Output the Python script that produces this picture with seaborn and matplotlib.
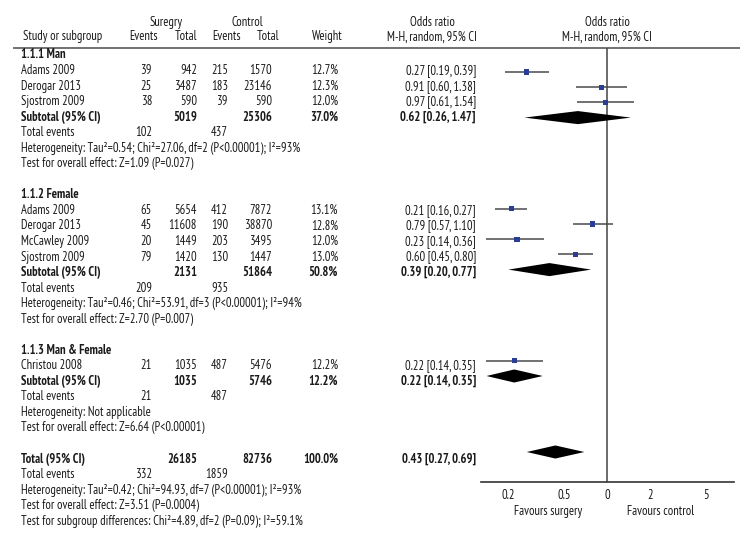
import matplotlib
matplotlib.use("Agg")
import matplotlib.pyplot as plt
import seaborn as sns
import pandas as pd
from matplotlib import font_manager

# ---- data ----
groups = ["1.1.1 Man", "1.1.2 Female", "1.1.3 Man & Female"]
study_group = [0, 0, 0, 1, 1, 1, 1, 2]
study_names = ["Adams 2009", "Derogar 2013", "Sjostrom 2009",
               "Adams 2009", "Derogar 2013", "McCawley 2009", "Sjostrom 2009",
               "Christou 2008"]
surg_events = [39, 25, 38, 65, 45, 20, 79, 21]
surg_total = [942, 3487, 590, 5654, 11608, 1449, 1420, 1035]
ctrl_events = [215, 183, 39, 412, 190, 203, 130, 487]
ctrl_total = [1570, 23146, 590, 7872, 38870, 3495, 1447, 5476]
weights = [12.7, 12.3, 12.0, 13.1, 12.8, 12.0, 13.0, 12.2]
or_est = [0.27, 0.91, 0.97, 0.21, 0.79, 0.23, 0.60, 0.22]
or_lo = [0.19, 0.60, 0.61, 0.16, 0.57, 0.14, 0.45, 0.14]
or_hi = [0.39, 1.38, 1.54, 0.27, 1.10, 0.36, 0.80, 0.35]

sub_surg_total = [5019, 2131, 1035]
sub_ctrl_total = [25306, 51864, 5746]
sub_weight = [37.0, 50.8, 12.2]
sub_surg_events = [102, 209, 21]
sub_ctrl_events = [437, 935, 487]
sub_est = [0.62, 0.39, 0.22]
sub_lo = [0.26, 0.20, 0.14]
sub_hi = [1.47, 0.77, 0.35]
sub_het = ["Heterogeneity: Tau²=0.54; Chi²=27.06, df=2 (P<0.00001); I²=93%",
           "Heterogeneity: Tau²=0.46; Chi²=53.91, df=3 (P<0.00001); I²=94%",
           "Heterogeneity: Not applicable"]
sub_test = ["Test for overall effect: Z=1.09 (P=0.027)",
            "Test for overall effect: Z=2.70 (P=0.007)",
            "Test for overall effect: Z=6.64 (P<0.00001)"]

tot_surg_total, tot_ctrl_total, tot_weight = 26185, 82736, 100.0
tot_surg_events, tot_ctrl_events = 332, 1859
tot_est, tot_lo, tot_hi = 0.43, 0.27, 0.69
tot_notes = ["Heterogeneity: Tau²=0.42; Chi²=94.93, df=7 (P<0.00001); I²=93%",
             "Test for overall effect: Z=3.51 (P=0.0004)",
             "Test for subgroup differences: Chi²=4.89, df=2 (P=0.09); I²=59.1%"]

tick_vals = [0.2, 0.5, 1, 2, 5]
tick_labels = ["0.2", "0.5", "0", "2", "5"]

# ---- style ----
sns.set_style("white")
names = {f.name for f in font_manager.fontManager.ttflist}
fam = "DejaVu Sans"
for cand in ["PT Sans Narrow", "Fira Sans Condensed", "Roboto Condensed",
             "Open Sans Condensed", "Asap Condensed", "Archivo Narrow",
             "Liberation Sans Narrow"]:
    if cand in names:
        fam = cand
        break
plt.rcParams["font.family"] = [fam, "DejaVu Sans"]
FS = 9
TXT = "#1a1a1a"

# ---- build rows ----
rows = []
study_rows = []
diamonds = []
r = 0
for g, gname in enumerate(groups):
    rows.append((r, "head", gname))
    r += 1
    for i in range(len(study_names)):
        if study_group[i] != g:
            continue
        rows.append((r, "study", i))
        study_rows.append(r)
        r += 1
    rows.append((r, "sub", g))
    diamonds.append((r, sub_est[g], sub_lo[g], sub_hi[g]))
    r += 1
    rows.append((r, "events", (sub_surg_events[g], sub_ctrl_events[g])))
    r += 1
    rows.append((r, "note", sub_het[g]))
    r += 1
    rows.append((r, "note", sub_test[g]))
    r += 2
rows.append((r, "total", None))
diamonds.append((r, tot_est, tot_lo, tot_hi))
r += 1
rows.append((r, "events", (tot_surg_events, tot_ctrl_events)))
r += 1
for n in tot_notes:
    rows.append((r, "note", n))
    r += 1

df = pd.DataFrame({"row": study_rows, "est": or_est, "lo": or_lo, "hi": or_hi})

# ---- figure ----
fig = plt.figure(figsize=(7.5, 5.44), dpi=100)
ax_t = fig.add_axes([0, 0, 1, 1])
ax_t.set_xlim(0, 750)
ax_t.set_ylim((544 - 55) / 15.54, -55 / 15.54)
ax_t.axis("off")

x_lab, x_se, x_st, x_ce, x_ct, x_w, x_or = 21, 152, 197, 228, 272, 338, 476


def put(x, y, s, ha="right", bold=False):
    ax_t.text(x, y, s, ha=ha, va="center", fontsize=FS, color=TXT,
              fontweight="bold" if bold else "normal")


def fmt_or(e, lo, hi):
    return f"{e:.2f} [{lo:.2f}, {hi:.2f}]"


# header
put(166, -2.12, "Suregry", ha="center")
put(247, -2.12, "Control", ha="center")
put(432, -2.12, "Odds ratio", ha="center")
put(607, -2.12, "Odds ratio", ha="center")
put(23, -1.16, "Study or subgroup", ha="left")
put(158, -1.16, "Events")
put(197, -1.16, "Total")
put(241, -1.16, "Events")
put(279, -1.16, "Total")
put(343, -1.16, "Weight")
put(432, -1.16, "M-H, random, 95% CI", ha="center")
put(607, -1.16, "M-H, random, 95% CI", ha="center")
ax_t.hlines(-0.45, 13, 740, color="#666666", lw=1.3)

for row, kind, c in rows:
    if kind == "head":
        put(x_lab, row, c, ha="left", bold=True)
    elif kind == "study":
        put(x_lab, row, study_names[c], ha="left")
        put(x_se, row, str(surg_events[c]))
        put(x_st, row, str(surg_total[c]))
        put(x_ce, row, str(ctrl_events[c]))
        put(x_ct, row, str(ctrl_total[c]))
        put(x_w, row, f"{weights[c]:.1f}%")
        put(x_or, row, fmt_or(or_est[c], or_lo[c], or_hi[c]))
    elif kind == "sub":
        put(x_lab, row, "Subtotal (95% CI)", ha="left", bold=True)
        put(x_st, row, str(sub_surg_total[c]), bold=True)
        put(x_ct, row, str(sub_ctrl_total[c]), bold=True)
        put(x_w, row, f"{sub_weight[c]:.1f}%", bold=True)
        put(x_or, row, fmt_or(sub_est[c], sub_lo[c], sub_hi[c]), bold=True)
    elif kind == "total":
        put(x_lab, row, "Total (95% CI)", ha="left", bold=True)
        put(x_st, row, str(tot_surg_total), bold=True)
        put(x_ct, row, str(tot_ctrl_total), bold=True)
        put(x_w, row, f"{tot_weight:.1f}%", bold=True)
        put(x_or, row, fmt_or(tot_est, tot_lo, tot_hi), bold=True)
    elif kind == "events":
        put(x_lab, row, "Total events", ha="left")
        put(x_se, row, str(c[0]))
        put(x_ce, row, str(c[1]))
    else:
        put(x_lab, row, c, ha="left")

put(548, 29.35, "Favours surgery", ha="center")
put(661, 29.35, "Favours control", ha="center")

# ---- forest panel ----
ax_f = fig.add_axes([481 / 750, 0, 253 / 750, 1])
ax_f.patch.set_visible(False)
ax_f.set_xscale("log")
ax_f.set_xlim(0.128, 7.9)
ax_f.set_ylim((544 - 56.8) / 15.2, -56.8 / 15.2)
axis_row = (482 - 56.8) / 15.2

ax_f.hlines(df["row"], df["lo"], df["hi"], color="#4a4a4a", lw=1.1, zorder=2)
sns.scatterplot(data=df, x="est", y="row", marker="s", s=14, color="#2b3d96",
                edgecolor="none", legend=False, ax=ax_f, zorder=3)
for row, e, lo, hi in diamonds:
    ax_f.fill([lo, e, hi, e], [row, row - 0.43, row, row + 0.43],
              color="black", lw=0, zorder=3)
ax_f.vlines(1, -0.58, axis_row, color="#444444", lw=1.1, zorder=1)

for s in ["top", "left", "right"]:
    ax_f.spines[s].set_visible(False)
ax_f.spines["bottom"].set_position(("data", axis_row))
ax_f.spines["bottom"].set_color("#333333")
ax_f.spines["bottom"].set_linewidth(1.2)
ax_f.set_xticks(tick_vals)
ax_f.set_xticklabels(tick_labels)
ax_f.minorticks_off()
ax_f.set_yticks([])
ax_f.tick_params(axis="x", direction="inout", length=8, width=1.1,
                 color="#333333", labelsize=FS, labelcolor=TXT, pad=1)
ax_f.set_xlabel("")
ax_f.set_ylabel("")

fig.savefig("out.png", dpi=100)
